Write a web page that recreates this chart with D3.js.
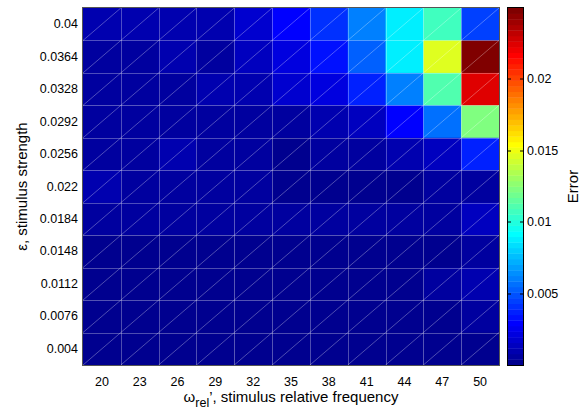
<!DOCTYPE html>
<html lang="en">
    <head>
        <meta charset="utf-8">
        <title>Error heatmap</title>
        <script type="text/javascript" src="https://cdn.jsdelivr.net/npm/d3@7"></script>
        <style>
            body { margin: 0; background: #fff; }
            text { font-family: "Liberation Sans", Arial, Helvetica, sans-serif; fill: #000; }
        </style>
    </head>
    <body>
        <div class="example"></div>
        <script type="text/javascript">
            // x categories: stimulus relative frequency
            var freqs = [20, 23, 26, 29, 32, 35, 38, 41, 44, 47, 50];
            // y categories: stimulus strength, top to bottom
            var strengths = ["0.04", "0.0364", "0.0328", "0.0292", "0.0256", "0.022",
                             "0.0184", "0.0148", "0.0112", "0.0076", "0.004"];
            // error values, one row per strength (same order as above)
            var errRows = [
                [0.0011, 0.0010, 0.0011, 0.0012, 0.0018, 0.0030, 0.0042, 0.0061, 0.0088, 0.0107, 0.0046],
                [0.0007, 0.0008, 0.0010, 0.0008, 0.0015, 0.0022, 0.0034, 0.0053, 0.0089, 0.0146, 0.0248],
                [0.0006, 0.0006, 0.0008, 0.0010, 0.0011, 0.0018, 0.0022, 0.0038, 0.0061, 0.0111, 0.0224],
                [0.0006, 0.0006, 0.0006, 0.0007, 0.0006, 0.0007, 0.0009, 0.0015, 0.0030, 0.0057, 0.0123],
                [0.0008, 0.0008, 0.0009, 0.0006, 0.0006, 0.0004, 0.0007, 0.0007, 0.0010, 0.0013, 0.0038],
                [0.0010, 0.0006, 0.0006, 0.0005, 0.0005, 0.0004, 0.0004, 0.0004, 0.0003, 0.0005, 0.0008],
                [0.0005, 0.0005, 0.0005, 0.0005, 0.0005, 0.0005, 0.0006, 0.0005, 0.0006, 0.0007, 0.0014],
                [0.0004, 0.0004, 0.0004, 0.0004, 0.0004, 0.0004, 0.0004, 0.0004, 0.0004, 0.0003, 0.0008],
                [0.0003, 0.0003, 0.0003, 0.0003, 0.0003, 0.0003, 0.0003, 0.0003, 0.0004, 0.0008, 0.0010],
                [0.0003, 0.0003, 0.0003, 0.0003, 0.0003, 0.0003, 0.0003, 0.0003, 0.0003, 0.0004, 0.0006],
                [0.0003, 0.0003, 0.0003, 0.0003, 0.0003, 0.0003, 0.0003, 0.0003, 0.0003, 0.0003, 0.0003]
            ];
            var cbTicks = [0.005, 0.01, 0.015, 0.02];
            var errRange = [0.0001, 0.0249];

            var w = 587;
            var h = 411;
            var plot = {left: 83, right: 499, top: 8, bottom: 365};
            var cb = {left: 508, right: 523};

            // matlab jet(64)
            function jetColors(m){
                var n = Math.ceil(m / 4);
                var u = [];
                for (var i = 1; i <= n; i++) u.push(i / n);
                for (var i = 1; i < n; i++) u.push(1);
                for (var i = n; i >= 1; i--) u.push(i / n);
                var pick = function(k){ return (k >= 1 && k <= u.length) ? u[k - 1] : 0; };
                var out = [];
                for (var j = 1; j <= m; j++){
                    out.push(d3.rgb(255 * pick(j - 24), 255 * pick(j - 8), 255 * pick(j + 8)).formatHex());
                }
                return out;
            }
            var jet = jetColors(64);
            var color = d3.scaleQuantize().domain(errRange).range(jet);

            var svg = d3.select("body div.example")
                        .append("svg")
                        .attr("width", w)
                        .attr("height", h);

            var xScale = d3.scaleBand()
                           .domain(freqs)
                           .range([plot.left, plot.right]);
            var yScale = d3.scaleBand()
                           .domain(strengths)
                           .range([plot.top, plot.bottom]);

            // flatten cells
            var cells = [];
            errRows.forEach(function(row, ri){
                row.forEach(function(v, ci){
                    cells.push({x: freqs[ci], y: strengths[ri], v: v});
                });
            });

            svg.append("g")
               .selectAll("rect")
               .data(cells)
               .enter()
               .append("rect")
               .attr("x", function(d){ return xScale(d.x); })
               .attr("y", function(d){ return yScale(d.y); })
               .attr("width", xScale.bandwidth() + 0.5)
               .attr("height", yScale.bandwidth() + 0.5)
               .attr("fill", function(d){ return color(d.v); });

            // faint mesh lines: cell edges plus one diagonal per cell
            var mesh = svg.append("g")
                          .attr("stroke", "#ffffff")
                          .attr("stroke-opacity", 0.3)
                          .attr("stroke-width", 1)
                          .attr("fill", "none");
            freqs.slice(1).forEach(function(f){
                mesh.append("line")
                    .attr("x1", Math.round(xScale(f)) + 0.5).attr("x2", Math.round(xScale(f)) + 0.5)
                    .attr("y1", plot.top).attr("y2", plot.bottom);
            });
            strengths.slice(1).forEach(function(s){
                mesh.append("line")
                    .attr("x1", plot.left).attr("x2", plot.right)
                    .attr("y1", Math.round(yScale(s)) + 0.5).attr("y2", Math.round(yScale(s)) + 0.5);
            });
            mesh.selectAll("line.diag")
                .data(cells)
                .enter()
                .append("line")
                .attr("class", "diag")
                .attr("x1", function(d){ return xScale(d.x); })
                .attr("y1", function(d){ return yScale(d.y) + yScale.bandwidth(); })
                .attr("x2", function(d){ return xScale(d.x) + xScale.bandwidth(); })
                .attr("y2", function(d){ return yScale(d.y); });

            // axes box
            svg.append("rect")
               .attr("x", plot.left - 0.5)
               .attr("y", plot.top - 0.5)
               .attr("width", plot.right - plot.left + 1)
               .attr("height", plot.bottom - plot.top + 1)
               .attr("fill", "none")
               .attr("stroke", "#555")
               .attr("stroke-width", 1);

            // tick labels (no tick marks visible on the image)
            var xAxis = d3.axisBottom(xScale).tickSize(0).tickPadding(12);
            var yAxis = d3.axisLeft(yScale).tickSize(0).tickPadding(5);
            var gx = svg.append("g")
                        .attr("class", "x axis")
                        .attr("transform", "translate(0," + plot.bottom + ")")
                        .call(xAxis);
            var gy = svg.append("g")
                        .attr("class", "y axis")
                        .attr("transform", "translate(" + plot.left + ",0)")
                        .call(yAxis);
            svg.selectAll(".axis .domain").remove();
            svg.selectAll(".axis text")
               .attr("font-size", 12.5)
               .attr("font-family", "Liberation Sans, Arial, sans-serif")
               .attr("fill", "#000");

            // axis titles
            var xt = svg.append("text")
                        .attr("x", (plot.left + plot.right) / 2)
                        .attr("y", 402)
                        .attr("text-anchor", "middle")
                        .attr("font-size", 15);
            xt.append("tspan").text("ω");
            xt.append("tspan").attr("dy", 5).attr("font-size", 12.5).text("rel");
            xt.append("tspan").attr("dy", -5).text("’, stimulus relative frequency");

            svg.append("text")
               .attr("transform", "translate(27," + (plot.top + plot.bottom) / 2 + ") rotate(-90)")
               .attr("text-anchor", "middle")
               .attr("font-size", 15)
               .text("ε, stimulus strength");

            // colorbar
            var cbScale = d3.scaleLinear()
                            .domain(errRange)
                            .range([plot.bottom, plot.top]);
            var bandH = (plot.bottom - plot.top) / jet.length;
            svg.append("g")
               .selectAll("rect")
               .data(jet)
               .enter()
               .append("rect")
               .attr("x", cb.left)
               .attr("y", function(d, i){ return plot.bottom - (i + 1) * bandH; })
               .attr("width", cb.right - cb.left)
               .attr("height", bandH + 0.4)
               .attr("fill", function(d){ return d; });
            svg.append("rect")
               .attr("x", cb.left - 0.5)
               .attr("y", plot.top - 0.5)
               .attr("width", cb.right - cb.left + 1)
               .attr("height", plot.bottom - plot.top + 1)
               .attr("fill", "none")
               .attr("stroke", "#000")
               .attr("stroke-width", 1);
            var cbt = svg.append("g").selectAll("g")
                         .data(cbTicks)
                         .enter()
                         .append("g")
                         .attr("transform", function(d){ return "translate(0," + Math.round(cbScale(d)) + ")"; });
            cbt.append("line").attr("x1", cb.left).attr("x2", cb.left + 3).attr("stroke", "#000");
            cbt.append("line").attr("x1", cb.right - 3).attr("x2", cb.right).attr("stroke", "#000");
            cbt.append("text")
               .attr("x", cb.right + 4)
               .attr("dy", "0.35em")
               .attr("font-size", 12.5)
               .text(function(d){ return d; });

            svg.append("text")
               .attr("transform", "translate(578," + (plot.top + plot.bottom) / 2 + ") rotate(-90)")
               .attr("text-anchor", "middle")
               .attr("font-size", 15)
               .text("Error");
        </script>
    </body>
</html>
